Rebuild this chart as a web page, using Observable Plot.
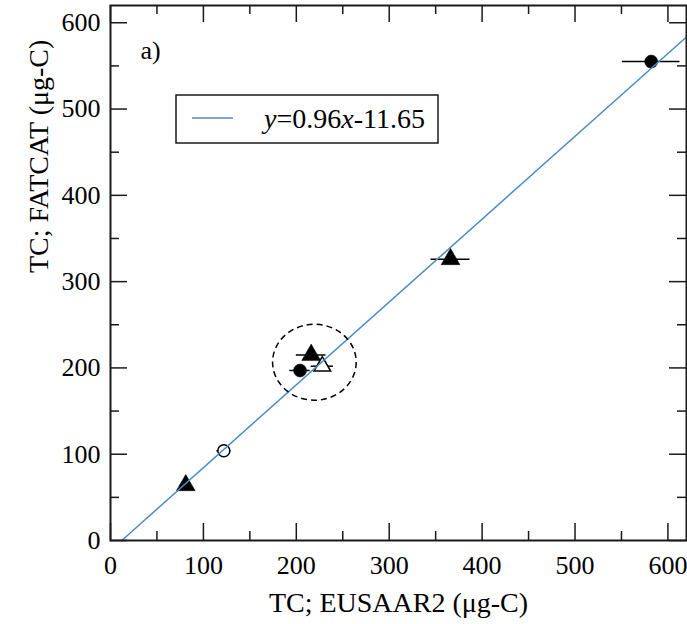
<!DOCTYPE html>
<html><head><meta charset="utf-8">
<script src="https://cdn.jsdelivr.net/npm/d3@7"></script>
<script src="https://cdn.jsdelivr.net/npm/@observablehq/plot@0.6"></script>
<style>body{margin:0;background:#fff}#chart{position:relative;width:687px;height:624px}</style>
</head><body><div id="chart"></div>
<script>
// Data
const eusaar2 = [582, 366, 216, 204, 228, 122, 81];
const fatcat  = [555, 326, 215, 197, 202, 104, 64];
const xErr    = [31, 21, 16, 11, 12, 7.5, 6];
const symbols = ["circle", "triangle", "triangle", "circle", "triangle", "circle", "triangle"];
const filled  = [true, true, true, true, false, false, true];
const fitSlope = 0.96;
const fitIntercept = -11.65;
const xMajor = [0, 100, 200, 300, 400, 500, 600];
const xMinor = [50, 150, 250, 350, 450, 550];
const yMajor = [0, 100, 200, 300, 400, 500, 600];
const yMinor = [50, 150, 250, 350, 450, 550];
const groupCenter = [220, 206];
const groupRadius = [45, 44];
const domainMax = 620;

const pts = eusaar2.map((x, i) => ({x, y: fatcat[i], e: xErr[i], s: symbols[i], f: filled[i]}));
const x0 = -fitIntercept / fitSlope;
const fit = [x0, domainMax].map(x => ({x, y: fitSlope * x + fitIntercept}));

const ink = "#1a1a1a";
const font = "Liberation Serif, Times New Roman, serif";

const W = 687, H = 624, mL = 110, mR = 1, mT = 5, mB = 84;
const uX = domainMax / (W - mL - mR);   // data units per pixel
const uY = domainMax / (H - mT - mB);
const tickStyle = {stroke: ink, strokeWidth: 1.5};
const tickMarks = (len, xs, ys) => [
  Plot.ruleX(xs, {x: d => d, y1: 0, y2: len * uY, ...tickStyle}),
  Plot.ruleX(xs, {x: d => d, y1: domainMax, y2: domainMax - len * uY, ...tickStyle}),
  Plot.ruleY(ys, {y: d => d, x1: 0, x2: len * uX, ...tickStyle}),
  Plot.ruleY(ys, {y: d => d, x1: domainMax, x2: domainMax - len * uX, ...tickStyle})
];

const plot = Plot.plot({
  width: W, height: H,
  marginLeft: mL, marginRight: mR, marginTop: mT, marginBottom: mB,
  style: {fontFamily: font, fontSize: "26px", color: "#000", background: "#fff"},
  x: {domain: [0, domainMax], label: null},
  y: {domain: [0, domainMax], label: null},
  marks: [
    Plot.ruleY(pts, {y: "y", x1: d => d.x - d.e, x2: d => d.x + d.e, stroke: "#000", strokeWidth: 1.5}),
    Plot.dot(pts.filter(d => d.s === "circle" && d.f), {x: "x", y: "y", r: 6.5, symbol: "circle", fill: "#000", stroke: "#000", strokeWidth: 0.5}),
    Plot.dot(pts.filter(d => d.s === "circle" && !d.f), {x: "x", y: "y", r: 6, symbol: "circle", fill: "#fff", stroke: "#000", strokeWidth: 1.5}),
    Plot.dot(pts.filter(d => d.s === "triangle" && d.f), {x: "x", y: "y", r: 7, symbol: "triangle", fill: "#000", stroke: "#000", strokeWidth: 0.5}),
    Plot.dot(pts.filter(d => d.s === "triangle" && !d.f), {x: "x", y: "y", r: 6.2, symbol: "triangle", fill: "#fff", stroke: "#000", strokeWidth: 1.5}),
    Plot.line(fit, {x: "x", y: "y", stroke: "#4a8cc8", strokeWidth: 1.5}),
    ...tickMarks(17, xMajor, yMajor),
    ...tickMarks(9, xMinor, yMinor),
    Plot.frame({stroke: ink, strokeWidth: 2}),
    Plot.axisX(xMajor, {tickSize: 0, tickPadding: 15, fontSize: 26, label: null}),
    Plot.axisY(yMajor, {tickSize: 0, tickPadding: 10, fontSize: 26, label: null}),
    Plot.text(["TC; EUSAAR2 (\u03bcg-C)"], {frameAnchor: "bottom", dy: 63, lineAnchor: "middle", fontSize: 28}),
    Plot.text(["TC; FATCAT (\u03bcg-C)"], {frameAnchor: "left", dx: -71, rotate: -90, lineAnchor: "middle", fontSize: 28}),
    Plot.text(["a)"], {frameAnchor: "top-left", dx: 30, dy: 45, textAnchor: "start", lineAnchor: "middle", fontSize: 26})
  ]
});

// group ellipse and legend, placed through the plot's scales
const sx = plot.scale("x"), sy = plot.scale("y");
const lin = (s) => s.apply ? (v => s.apply(v)) : (v => s.range[0] + (v - s.domain[0]) / (s.domain[1] - s.domain[0]) * (s.range[1] - s.range[0]));
const fx = lin(sx), fy = lin(sy);
const svg = d3.select(plot.tagName.toLowerCase() === "svg" ? plot : plot.querySelector("svg"));

svg.append("ellipse")
  .attr("cx", fx(groupCenter[0])).attr("cy", fy(groupCenter[1]))
  .attr("rx", Math.abs(fx(groupCenter[0] + groupRadius[0]) - fx(groupCenter[0])))
  .attr("ry", Math.abs(fy(groupCenter[1] + groupRadius[1]) - fy(groupCenter[1])))
  .attr("fill", "none").attr("stroke", "#000").attr("stroke-width", 1.5).attr("stroke-dasharray", "6,4");

const lg = svg.append("g");
lg.append("rect").attr("x", 176).attr("y", 95).attr("width", 262).attr("height", 48)
  .attr("fill", "#fff").attr("stroke", ink).attr("stroke-width", 1.5);
lg.append("line").attr("x1", 192).attr("x2", 233).attr("y1", 118).attr("y2", 118)
  .attr("stroke", "#4a8cc8").attr("stroke-width", 1.5);
const t = lg.append("text").attr("x", 264).attr("y", 128).attr("text-anchor", "start")
  .attr("font-size", 28).attr("font-family", font).attr("fill", "#000");
t.append("tspan").attr("font-style", "italic").text("y");
t.append("tspan").text("=" + fitSlope);
t.append("tspan").attr("font-style", "italic").text("x");
t.append("tspan").text((fitIntercept < 0 ? "-" : "+") + Math.abs(fitIntercept));

document.getElementById("chart").append(plot);
</script></body></html>
